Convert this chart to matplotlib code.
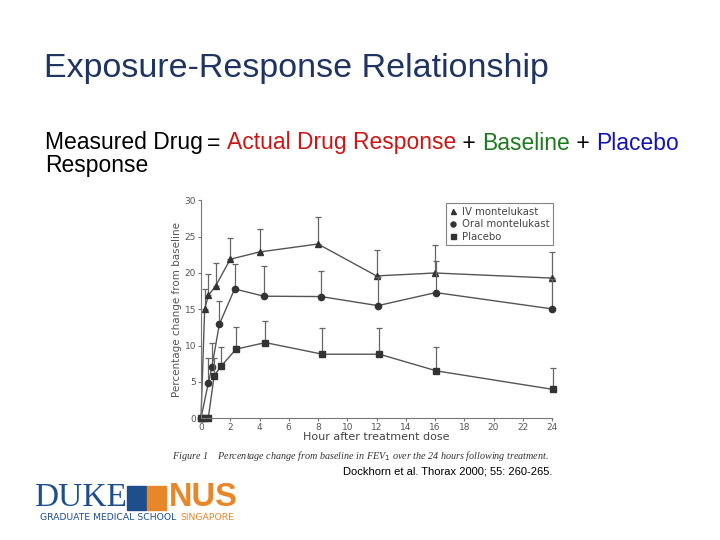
import matplotlib.pyplot as plt
from matplotlib.patches import Rectangle

# data (hours, % change from baseline)
iv_t = [0, 0.25, 0.5, 1, 2, 4, 8, 12, 16, 24]
iv_v = [0, 15.0, 16.9, 18.2, 21.9, 22.9, 24.0, 19.6, 20.0, 19.3]
iv_up = [0, 17.8, 19.8, 21.4, 24.8, 26.1, 27.7, 23.2, 23.8, 22.9]

oral_t = [0, 0.5, 0.75, 1.25, 2.3, 4.3, 8.2, 12.1, 16.05, 24]
oral_v = [0, 4.8, 7.1, 12.9, 17.8, 16.8, 16.75, 15.5, 17.3, 15.05]
oral_up = [0, 8.3, 10.4, 16.2, 21.2, 20.9, 20.3, 19.5, 21.7, 19.2]

plac_t = [0, 0.25, 0.5, 0.9, 1.4, 2.4, 4.4, 8.3, 12.2, 16.1, 24.05]
plac_v = [0, 0, 0, 5.85, 7.2, 9.5, 10.4, 8.8, 8.8, 6.5, 3.95]
plac_up = [0, 0, 0, 8.3, 9.8, 12.6, 13.4, 12.4, 12.4, 9.8, 6.9]

x_ticks = list(range(0, 25, 2))
y_ticks = list(range(0, 31, 5))

fig = plt.figure(figsize=(7.2, 5.4), dpi=100)
fig.patch.set_facecolor("white")
renderer = fig.canvas.get_renderer()

# slide title and equation
navy = "#1f3461"
fig.text(44 / 720, 1 - 68 / 540, "Exposure-Response Relationship", fontsize=24.5,
         color=navy, family="Liberation Sans", va="center")

eq_y = 1 - 143 / 540
eq_size = 16.5
fig.text(45 / 720, eq_y, "Measured Drug", fontsize=eq_size, color="black",
         family="Liberation Sans", va="center")
fig.text(45 / 720, 1 - 166 / 540, "Response", fontsize=eq_size, color="black",
         family="Liberation Sans", va="center")
parts = [("= ", "black"), ("Actual Drug Response", "#cc1616"),
         (" + ", "black"), ("Baseline", "#1e7a1e"),
         (" + ", "black"), ("Placebo", "#1414b4")]
x_px = 207
for txt, col in parts:
    t = fig.text(x_px / 720, eq_y, txt, fontsize=eq_size, color=col,
                 family="Liberation Sans", va="center")
    x_px += t.get_window_extent(renderer).width

# the chart
ax = fig.add_axes([201 / 720, 1 - 418 / 540, 351 / 720, 217.5 / 540])
line_c = "#555555"
mark_c = "#333333"
series = [(iv_t, iv_v, iv_up, "^", "IV montelukast"),
          (oral_t, oral_v, oral_up, "o", "Oral montelukast"),
          (plac_t, plac_v, plac_up, "s", "Placebo")]
for t, v, up, mk, lab in series:
    err = [u - y for u, y in zip(up, v)]
    ax.errorbar(t, v, yerr=[[0] * len(v), err], fmt="none", ecolor="#666666",
                elinewidth=0.9, capsize=2.5, capthick=0.9, clip_on=False)
    ax.plot(t, v, color=line_c, lw=1.0, marker=mk, ms=4.5, mfc=mark_c,
            mec=mark_c, label=lab, clip_on=False)

ax.set_xlim(0, 24)
ax.set_ylim(0, 30)
ax.set_xticks(x_ticks)
ax.set_yticks(y_ticks)
for s in ["top", "right"]:
    ax.spines[s].set_visible(False)
for s in ["left", "bottom"]:
    ax.spines[s].set_color("#777777")
    ax.spines[s].set_linewidth(0.8)
ax.tick_params(colors="#777777", labelsize=6.5, length=2, width=0.8, pad=1.5,
               labelcolor="#555555")
ax.set_xlabel("Hour after treatment dose", fontsize=8, color="#444444", labelpad=0)
ax.set_ylabel("Percentage change from baseline", fontsize=7.5, color="#555555",
              labelpad=2)
leg = ax.legend(loc="upper right", bbox_to_anchor=(558 / 720, 1 - 198 / 540),
                bbox_transform=fig.transFigure, fontsize=7.3, frameon=True,
                fancybox=False, handlelength=0.6, handletextpad=0.6,
                borderpad=0.35, labelspacing=0.25, markerscale=0.8)
leg.get_frame().set_edgecolor("#666666")
leg.get_frame().set_linewidth(0.8)
for h in leg.get_lines():
    h.set_linestyle("none")
for txt in leg.get_texts():
    txt.set_color("#444444")

# caption and reference
fig.text(172 / 720, 1 - 456 / 540,
         "Figure 1    Percentage change from baseline in FEV$_1$ over the 24 hours following treatment.",
         fontsize=7.3, style="italic", family="Liberation Serif", color="#333333",
         va="center")
fig.text(343 / 720, 1 - 472 / 540, "Dockhorn et al. Thorax 2000; 55: 260-265.",
         fontsize=8, family="Liberation Sans", color="black", va="center")

# logo
duke_blue = "#1f4e8c"
orange = "#e8862a"
fig.text(34 / 720, 1 - 498 / 540, "DUKE", fontsize=24, family="Liberation Serif",
         color=duke_blue, va="center")
fig.patches.append(Rectangle((127 / 720, 1 - 510 / 540), 19 / 720, 24 / 540,
                             transform=fig.transFigure, color=duke_blue))
fig.patches.append(Rectangle((147 / 720, 1 - 510 / 540), 19 / 720, 24 / 540,
                             transform=fig.transFigure, color=orange))
fig.text(169 / 720, 1 - 498 / 540, "NUS", fontsize=23.5, family="Liberation Sans",
         weight="bold", color=orange, va="center")
fig.text(40 / 720, 1 - 518 / 540, "GRADUATE MEDICAL SCHOOL", fontsize=6.7,
         family="DejaVu Sans", color=duke_blue, va="center")
fig.text(180 / 720, 1 - 518 / 540, "SINGAPORE", fontsize=6.7,
         family="DejaVu Sans", color=orange, va="center")

fig.savefig("out.png", dpi=100)
